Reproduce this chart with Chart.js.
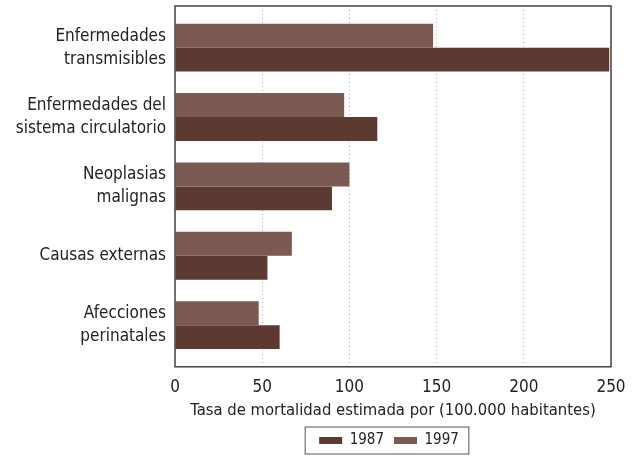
<!DOCTYPE html>
<html>
<head>
<meta charset="utf-8">
<script src="https://cdn.jsdelivr.net/npm/chart.js@4.4.0/dist/chart.umd.min.js"></script>
<style>
    html, body { margin: 0; padding: 0; background: #fff; }
    #wrap { width: 638px; height: 459px; }
</style>
</head>
<body>
<div id="wrap"><canvas id="mortChart"></canvas></div>
<script>
// Datos
const categorias = [
    ['Enfermedades', 'transmisibles'],
    ['Enfermedades del', 'sistema circulatorio'],
    ['Neoplasias', 'malignas'],
    ['Causas externas'],
    ['Afecciones', 'perinatales']
];
const valores1987 = [249, 116, 90, 53, 60];
const valores1997 = [148, 97, 100, 67, 48];
const ticksX = [0, 50, 100, 150, 200, 250];

const FONT = '"DejaVu Sans Condensed", "Liberation Sans Narrow", sans-serif';

// Los índices de categoría van en un eje lineal (0..4) para dejar más margen arriba y abajo
const puntos = vals => vals.map((v, i) => ({ x: v, y: i }));

// Marco alrededor del área del gráfico y de la leyenda
const marcoPlugin = {
    id: 'marco',
    afterLayout(chart) {
        // centrar la leyenda bajo el área del gráfico
        const a = chart.chartArea;
        if (chart.legend) {
            chart.legend.left = a.left - 4;
            chart.legend.right = a.right - 4;
        }
    },
    afterDraw(chart) {
        const ctx = chart.ctx;
        const a = chart.chartArea;
        ctx.save();
        ctx.strokeStyle = '#444';
        ctx.lineWidth = 1.5;
        ctx.strokeRect(a.left, a.top, a.right - a.left, a.bottom - a.top);
        const lg = chart.legend;
        if (lg && lg.legendHitBoxes.length) {
            const boxes = lg.legendHitBoxes;
            const last = boxes[boxes.length - 1];
            const x0 = boxes[0].left - 14;
            const x1 = last.left + last.width + 10;
            const y0 = boxes[0].top - 6;
            const y1 = boxes[0].top + boxes[0].height + 6;
            ctx.lineWidth = 1;
            ctx.strokeStyle = '#555';
            ctx.strokeRect(x0, y0, x1 - x0, y1 - y0);
        }
        ctx.restore();
    }
};

const ctx = document.getElementById('mortChart');
new Chart(ctx.getContext('2d'), {
    type: 'bar',
    data: {
        datasets: [{
            label: '1997',
            data: puntos(valores1997),
            backgroundColor: '#7a5a52',
            borderWidth: 0
        }, {
            label: '1987',
            data: puntos(valores1987),
            backgroundColor: '#5c3a31',
            borderWidth: 0
        }]
    },
    plugins: [marcoPlugin],
    options: {
        indexAxis: 'y',
        responsive: true,
        maintainAspectRatio: false,
        animation: false,
        layout: {
            padding: { top: 6, right: 27, left: 0, bottom: 1 }
        },
        plugins: {
            legend: {
                position: 'bottom',
                reverse: true,
                labels: {
                    boxWidth: 23,
                    boxHeight: 7,
                    padding: 10,
                    color: '#222',
                    font: { family: FONT, size: 15 }
                }
            },
            tooltip: { enabled: false }
        },
        datasets: {
            bar: {
                categoryPercentage: 0.69,
                barPercentage: 1.0
            }
        },
        scales: {
            x: {
                min: 0,
                max: 250,
                afterBuildTicks(scale) {
                    scale.ticks = ticksX.map(v => ({ value: v }));
                },
                grid: {
                    color: '#aaa',
                    drawTicks: false
                },
                border: { display: false, dash: [1, 3] },
                ticks: {
                    padding: 11,
                    color: '#222',
                    font: { family: FONT, size: 17 }
                },
                title: {
                    display: true,
                    text: 'Tasa de mortalidad estimada por (100.000 habitantes)',
                    color: '#222',
                    padding: { top: -8, bottom: 2 },
                    font: { family: FONT, size: 16.5 }
                }
            },
            y: {
                type: 'linear',
                reverse: true,
                offset: false,
                min: -0.6,
                max: 4.6,
                afterBuildTicks(scale) {
                    scale.ticks = categorias.map((c, i) => ({ value: i }));
                },
                afterFit(scale) {
                    scale.width = 175;
                    scale.paddingTop = 0;
                    scale.paddingBottom = 0;
                },
                grid: { display: false, drawTicks: false },
                border: { display: false },
                ticks: {
                    padding: 9,
                    color: '#222',
                    font: { family: FONT, size: 17, lineHeight: 1.35 },
                    callback: v => categorias[v]
                }
            }
        }
    }
});
</script>
</body>
</html>
